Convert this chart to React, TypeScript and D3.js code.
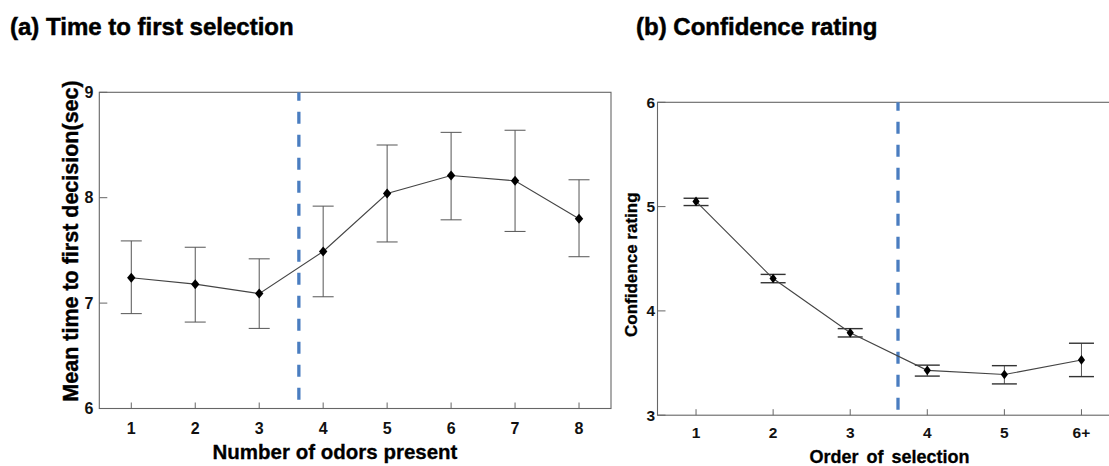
import React from "react";
import * as d3 from "d3";

// ---- Data ----
const odorCounts = [1, 2, 3, 4, 5, 6, 7, 8];
const timeMeans = [7.24, 7.18, 7.09, 7.49, 8.04, 8.21, 8.16, 7.8];
const timeUpper = [7.59, 7.53, 7.42, 7.92, 8.5, 8.62, 8.64, 8.17];
const timeLower = [6.9, 6.82, 6.76, 7.06, 7.58, 7.79, 7.68, 7.44];
const timeTicks = [6, 7, 8, 9];

const selectionOrder = [1, 2, 3, 4, 5, 6];
const selectionLabels = ["1", "2", "3", "4", "5", "6+"];
const confMeans = [5.05, 4.31, 3.79, 3.43, 3.39, 3.53];
const confUpper = [5.08, 4.35, 3.83, 3.48, 3.475, 3.69];
const confLower = [5.01, 4.27, 3.75, 3.375, 3.3, 3.37];
const confTicks = [3, 4, 5, 6];

const dividerX = 3.62;

const FONT = "'Liberation Sans', Arial, Helvetica, sans-serif";

function diamondPath(cx: number, cy: number, hw: number, hh: number) {
  const p = d3.path();
  p.moveTo(cx, cy - hh);
  p.lineTo(cx + hw, cy);
  p.lineTo(cx, cy + hh);
  p.lineTo(cx - hw, cy);
  p.closePath();
  return p.toString();
}

type PanelProps = {
  xs: number[];
  xLabels: string[];
  means: number[];
  upper: number[];
  lower: number[];
  yTicks: number[];
  xDomain: [number, number];
  xRange: [number, number];
  yDomain: [number, number];
  yRange: [number, number];
  capHalf: number;
  capWidth: number;
  capColor: string;
  markHW: number;
  markHH: number;
  yLabelRight: number;
  xLabelBaseline: number;
  tickFont: number;
};

function Panel(p: PanelProps) {
  const x = d3.scaleLinear().domain(p.xDomain).range(p.xRange);
  const y = d3.scaleLinear().domain(p.yDomain).range(p.yRange);
  const line = d3
    .line<number>()
    .x((_, i) => x(p.xs[i]))
    .y((d) => y(d));
  const [x0, x1] = p.xRange;
  const [yb, yt] = p.yRange;
  return (
    <g>
      {/* frame */}
      <rect x={x0} y={yt} width={x1 - x0} height={yb - yt} fill="none" stroke="#666" strokeWidth={1.1} />
      {/* y ticks (inside) */}
      {p.yTicks.map((t) => (
        <g key={"yt" + t}>
          <line x1={x0} x2={x0 + 8} y1={y(t)} y2={y(t)} stroke="#666" strokeWidth={1} />
          <text
            x={p.yLabelRight}
            y={y(t)}
            dy="0.36em"
            textAnchor="end"
            fontFamily={FONT}
            fontWeight="bold"
            fontSize={p.tickFont}
            fill="#111"
          >
            {t}
          </text>
        </g>
      ))}
      {/* x ticks (inside) */}
      {p.xs.map((v, i) => (
        <g key={"xt" + v}>
          <line x1={x(v)} x2={x(v)} y1={yb} y2={yb - 6} stroke="#666" strokeWidth={1} />
          <text
            x={x(v)}
            y={p.xLabelBaseline}
            textAnchor="middle"
            fontFamily={FONT}
            fontWeight="bold"
            fontSize={p.tickFont}
            fill="#111"
          >
            {p.xLabels[i]}
          </text>
        </g>
      ))}
      {/* divider */}
      <line
        x1={x(dividerX)}
        x2={x(dividerX)}
        y1={yt}
        y2={yb - 2}
        stroke="#4a7dc0"
        strokeWidth={3.3}
        strokeDasharray="12 11"
        strokeDashoffset={3.5}
      />
      {/* error bars */}
      {p.xs.map((v, i) => (
        <g key={"eb" + v}>
          <line x1={x(v)} x2={x(v)} y1={y(p.upper[i])} y2={y(p.lower[i])} stroke="#555" strokeWidth={1} />
          <line
            x1={x(v) - p.capHalf}
            x2={x(v) + p.capHalf}
            y1={y(p.upper[i])}
            y2={y(p.upper[i])}
            stroke={p.capColor}
            strokeWidth={p.capWidth}
          />
          <line
            x1={x(v) - p.capHalf}
            x2={x(v) + p.capHalf}
            y1={y(p.lower[i])}
            y2={y(p.lower[i])}
            stroke={p.capColor}
            strokeWidth={p.capWidth}
          />
        </g>
      ))}
      {/* line */}
      <path d={line(p.means) || ""} fill="none" stroke="#444" strokeWidth={1.1} />
      {/* markers */}
      {p.xs.map((v, i) => (
        <path key={"mk" + v} d={diamondPath(x(v), y(p.means[i]), p.markHW, p.markHH)} fill="#000" />
      ))}
    </g>
  );
}

export default function App() {
  return (
    <svg
      width={1109}
      height={466}
      style={{ position: "absolute", left: 0, top: 0, background: "#fff" }}
    >
      <rect x={0} y={0} width={1109} height={466} fill="#fff" />
      {/* Titles */}
      <text x={10} y={35} fontFamily={FONT} fontWeight="bold" fontSize={24} fill="#000" stroke="#000" strokeWidth={0.5}>
        (a) Time to first selection
      </text>
      <text x={636} y={35} fontFamily={FONT} fontWeight="bold" fontSize={24} fill="#000" stroke="#000" strokeWidth={0.5}>
        (b) Confidence rating
      </text>

      {/* Panel a */}
      <Panel
        xs={odorCounts}
        xLabels={odorCounts.map(String)}
        means={timeMeans}
        upper={timeUpper}
        lower={timeLower}
        yTicks={timeTicks}
        xDomain={[0.5, 8.5]}
        xRange={[99.3, 611]}
        yDomain={[6, 9]}
        yRange={[408.5, 92.3]}
        capHalf={10.5}
        capWidth={1}
        capColor="#555"
        markHW={4.2}
        markHH={5}
        yLabelRight={93.5}
        xLabelBaseline={434}
        tickFont={16}
      />
      <text
        transform="translate(78,241) rotate(-90)"
        textAnchor="middle"
        fontFamily={FONT}
        fontWeight="bold"
        fontSize={21.5}
        fill="#000"
        stroke="#000"
        strokeWidth={0.4}
      >
        Mean time to first decision(sec)
      </text>
      <text
        x={335}
        y={459}
        textAnchor="middle"
        fontFamily={FONT}
        fontWeight="bold"
        fontSize={20.5}
        fill="#000"
        stroke="#000"
        strokeWidth={0.3}
      >
        Number of odors present
      </text>

      {/* Panel b */}
      <Panel
        xs={selectionOrder}
        xLabels={selectionLabels}
        means={confMeans}
        upper={confUpper}
        lower={confLower}
        yTicks={confTicks}
        xDomain={[0.5, 6.5]}
        xRange={[657.5, 1120]}
        yDomain={[3, 6]}
        yRange={[415.2, 102.3]}
        capHalf={12.5}
        capWidth={1.4}
        capColor="#333"
        markHW={3.6}
        markHH={4.8}
        yLabelRight={655}
        xLabelBaseline={438}
        tickFont={15.5}
      />
      <text
        transform="translate(637,264.7) rotate(-90)"
        textAnchor="middle"
        fontFamily={FONT}
        fontWeight="bold"
        fontSize={17}
        fill="#000"
        stroke="#000"
        strokeWidth={0.3}
      >
        Confidence rating
      </text>
      <text
        x={889.5}
        y={463}
        textAnchor="middle"
        fontFamily={FONT}
        fontWeight="bold"
        fontSize={18}
        wordSpacing={3}
        fill="#000"
        stroke="#000"
        strokeWidth={0.3}
      >
        Order of selection
      </text>
    </svg>
  );
}
